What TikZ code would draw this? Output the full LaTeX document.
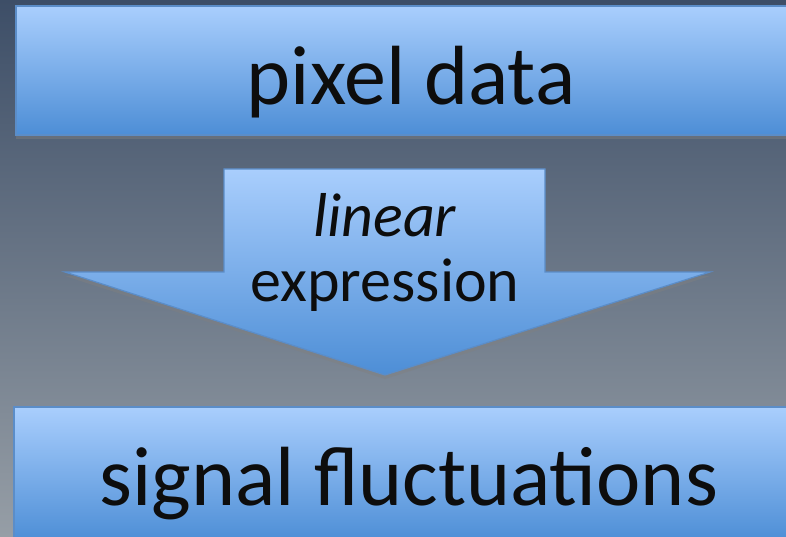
\documentclass[tikz,border=0pt]{standalone}
\usepackage{fontspec}
\setmainfont{Carlito}
\usetikzlibrary{shadows}
\definecolor{bgtop}{HTML}{3D4E67}
\definecolor{bgbot}{HTML}{969EA6}
\definecolor{btop}{HTML}{A9CEFD}
\definecolor{bbot}{HTML}{4D8ED6}
\definecolor{bline}{HTML}{5B8DC8}
\tikzset{bluebox/.style = {draw = bline, line width = 1.2pt, top color = btop, bottom color = bbot,
    drop shadow = {opacity = 0.45, shadow xshift = 0pt, shadow yshift = -4pt}}}
\tikzset{bigtext/.style = {font = \fontsize{84}{90}\selectfont, text = black!95, text depth = 0pt}}

\begin{document}
\begin{tikzpicture}[x = 1pt, y = 1pt]
    \useasboundingbox (0, 0) rectangle (786, 536);
    \shade [top color = bgtop, bottom color = bgbot] (0, 0) rectangle (786, 536);
    \node [bluebox, bigtext, text height = 69pt, minimum width = 790pt, minimum height = 129pt, inner sep = 0] (pixel) at (411, 465.5) {pixel data};
    \node [bluebox, bigtext, text height = 62pt, minimum width = 790pt, minimum height = 134pt, inner sep = 0] (signal) at (409, 62) {signal fluctuations};
    \draw [bluebox] (224, 367) -- (545, 367) -- (545, 264) -- (710, 264) -- (385, 161) -- (65, 264) -- (224, 264) -- cycle;
    \node [font = \fontsize{62}{65}\selectfont, text = black!95, align = center] (linexp) at (385, 284) {\textit{linear}\\expression};
  \end{tikzpicture}
\end{document}
